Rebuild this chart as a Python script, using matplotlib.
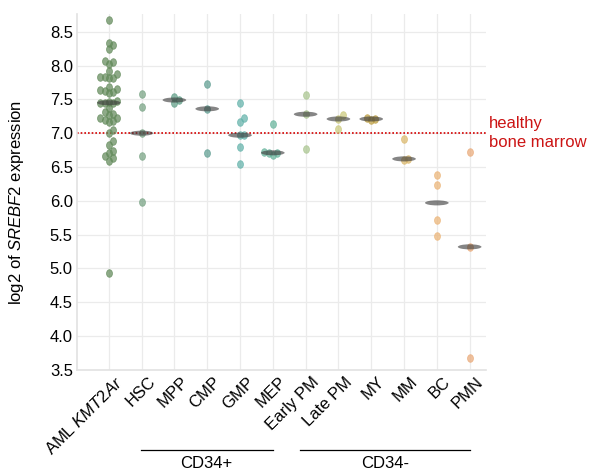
import numpy as np
import matplotlib
matplotlib.use("Agg")
import matplotlib.pyplot as plt
from matplotlib.patches import Ellipse
from matplotlib.path import Path
import matplotlib.transforms as mtransforms

plt.rcParams["font.family"] = ["Liberation Sans", "DejaVu Sans"]
plt.rcParams["mathtext.fontset"] = "custom"
plt.rcParams["mathtext.rm"] = "Liberation Sans"
plt.rcParams["mathtext.it"] = "Liberation Sans:italic"

# ---- data -------------------------------------------------------------
categories = ["AML $\\mathit{KMT2Ar}$", "HSC", "MPP", "CMP", "GMP", "MEP",
              "Early PM", "Late PM", "MY", "MM", "BC", "PMN"]

aml_kmt2ar = [8.67, 8.34, 8.30, 8.25, 8.07, 8.05, 8.02, 7.92, 7.87, 7.83,
              7.83, 7.82, 7.82, 7.68, 7.66, 7.64, 7.63, 7.61, 7.59, 7.47,
              7.46, 7.45, 7.44, 7.45, 7.37, 7.32, 7.29, 7.27, 7.22, 7.19,
              7.17, 7.22, 7.18, 7.04, 7.00, 6.88, 6.83, 6.74, 6.70, 6.67,
              6.63, 6.59, 4.94]
hsc = [7.58, 7.39, 7.00, 6.66, 5.99]
mpp = [7.54, 7.49, 7.44]
cmp_ = [7.72, 7.36, 6.71]
gmp = [7.45, 7.22, 7.17, 6.97, 6.97, 6.80, 6.55]
mep = [7.13, 6.72, 6.71, 6.70, 6.68]
early_pm = [7.57, 7.28, 6.77]
late_pm = [7.27, 7.21, 7.06]
my = [7.22, 7.21, 7.20]
mm = [6.91, 6.62, 6.60]
bc = [6.38, 6.23, 5.71, 5.48]
pmn = [6.72, 5.32, 3.68]

groups = [aml_kmt2ar, hsc, mpp, cmp_, gmp, mep, early_pm, late_pm, my, mm, bc, pmn]

colors = ["#628a5a", "#77a283", "#5f9e87", "#5f9e92", "#62b2aa", "#67b49c",
          "#a9c58f", "#cbc97b", "#bfa042", "#dbb86b", "#ebb477", "#e9a978"]

healthy_level = 7.0
yticks = [3.5, 4.0, 4.5, 5.0, 5.5, 6.0, 6.5, 7.0, 7.5, 8.0, 8.5]

# ---- figure -------------------------------------------------------------
fig = plt.figure(figsize=(5.89, 4.70), dpi=100)
ax = fig.add_axes([0.1307, 0.2128, 0.6945, 0.7572])
ax.set_xlim(-0.97, 11.5)
ax.set_ylim(3.5, 8.76)

grid_c = "#ebebeb"
ax.set_yticks(yticks)
ax.set_yticklabels([f"{t:.1f}" for t in yticks], fontsize=12)
ax.set_xticks(range(len(categories)))
ax.grid(True, color=grid_c, lw=0.9)
ax.set_axisbelow(True)
ax.tick_params(length=0, pad=3)
for s in ["top", "right"]:
    ax.spines[s].set_visible(False)
for s in ["left", "bottom"]:
    ax.spines[s].set_color("#e2e2e2")
    ax.spines[s].set_linewidth(1.2)

# pixel scale of the data units, used for swarm placement
fig.canvas.draw()
px_per_x = ax.transData.transform((1, 0))[0] - ax.transData.transform((0, 0))[0]
px_per_y = ax.transData.transform((0, 1))[1] - ax.transData.transform((0, 0))[1]


def swarm_offsets(vals, dx_px=4.2, dy_px=5.5):
    """Place points side by side so that their ellipses barely overlap."""
    order = np.argsort(vals)
    placed = []
    offs = np.zeros(len(vals))
    for i in order:
        y = vals[i] * px_per_y
        k = 0
        while True:
            cands = [0.0] if k == 0 else [k * dx_px, -k * dx_px]
            if k % 2 == 0:
                cands = cands[::-1]
            ok_pos = None
            for c in cands:
                clash = False
                for (px, py) in placed:
                    if ((c - px) / dx_px) ** 2 + ((y - py) / dy_px) ** 2 < 1.0:
                        clash = True
                        break
                if not clash:
                    ok_pos = c
                    break
            if ok_pos is not None:
                break
            k += 1
        placed.append((ok_pos, y))
        offs[i] = ok_pos / px_per_x
    return offs


# vertically stretched ellipse marker
circ = Path.unit_circle()
dot = Path(circ.vertices * np.array([0.78, 1.0]), circ.codes)

for i, (vals, col) in enumerate(zip(groups, colors)):
    vals = np.asarray(vals, dtype=float)
    xo = swarm_offsets(vals)
    ax.scatter(i + xo, vals, marker=dot, s=30, color=col, alpha=0.72,
               edgecolor=col, linewidth=0.6, zorder=3)
    med = np.median(vals)
    ax.add_patch(Ellipse((i, med), width=0.72, height=0.075,
                         facecolor="#3a3a3a", edgecolor="none", alpha=0.62,
                         zorder=4))

ax.axhline(healthy_level, color="#d40000", lw=1.2, ls=(0, (1, 1.2)), zorder=2)
ax.text(1.008, healthy_level, "healthy\nbone marrow", color="#cc1414",
        fontsize=12, va="center", ha="left", linespacing=1.35,
        transform=mtransforms.blended_transform_factory(ax.transAxes, ax.transData),
        clip_on=False)

ax.set_ylabel("log2 of $\\mathit{SREBF2}$ expression", fontsize=12)
ax.yaxis.set_label_coords(-0.125, 0.47)

shift = mtransforms.ScaledTranslation(6 / 100, 0, fig.dpi_scale_trans)
ax.set_xticklabels(categories, fontsize=12, rotation=45, ha="right",
                   va="top", rotation_mode="anchor")
for lab in ax.get_xticklabels():
    lab.set_transform(lab.get_transform() + shift)

# CD34+ / CD34- group brackets under the labels
bt = mtransforms.blended_transform_factory(ax.transData, fig.transFigure)
line_y = 1 - 450 / 470
text_y = 1 - 464 / 470
for x0, x1, name in [(0.97, 5.0, "CD34+"), (5.82, 11.0, "CD34-")]:
    ax.plot([x0, x1], [line_y, line_y], color="black", lw=0.9,
            transform=bt, clip_on=False)
    ax.text((x0 + x1) / 2, text_y, name, transform=bt, ha="center",
            va="center", fontsize=12)

fig.savefig("out.png", dpi=100)
